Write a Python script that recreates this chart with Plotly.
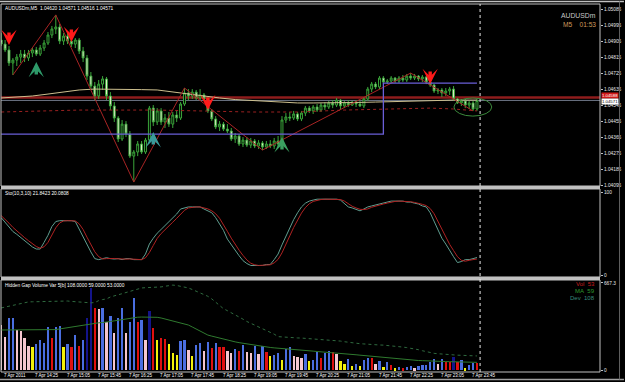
import plotly.graph_objects as go

# ---------------- data ----------------
bars = list(range(123))

open_ = [1.04911,1.04888,1.04855,1.04782,1.04798,1.04815,1.04832,1.04810,1.04838,1.04855,
         1.04832,1.04866,1.04894,1.04939,1.04973,1.04984,1.04905,1.04933,1.04905,1.04888,
         1.04911,1.04849,1.04810,1.04708,1.04652,1.04596,1.04663,1.04692,1.04596,1.04540,
         1.04472,1.04354,1.04438,1.04382,1.04258,1.04281,1.04326,1.04281,1.04348,1.04528,
         1.04450,1.04512,1.04450,1.04472,1.04438,1.04489,1.04472,1.04551,1.04613,1.04596,
         1.04618,1.04585,1.04602,1.04579,1.04512,1.04467,1.04422,1.04438,1.04410,1.04399,
         1.04354,1.04371,1.04326,1.04348,1.04320,1.04343,1.04315,1.04332,1.04309,1.04326,
         1.04315,1.04343,1.04326,1.04461,1.04478,1.04472,1.04495,1.04467,1.04500,1.04528,
         1.04512,1.04534,1.04517,1.04545,1.04534,1.04557,1.04545,1.04573,1.04540,1.04557,
         1.04545,1.04562,1.04551,1.04540,1.04579,1.04635,1.04663,1.04647,1.04697,1.04675,
         1.04680,1.04697,1.04680,1.04697,1.04686,1.04708,1.04697,1.04708,1.04692,1.04703,
         1.04675,1.04658,1.04624,1.04630,1.04613,1.04624,1.04635,1.04579,1.04557,1.04568,
         1.04545,1.04557,1.04523]
high = [1.04950,1.04911,1.04877,1.04810,1.04832,1.04855,1.04855,1.04855,1.04866,1.04872,
        1.04883,1.04911,1.04956,1.04990,1.05052,1.05001,1.04950,1.04950,1.04928,1.04922,
        1.04922,1.04872,1.04827,1.04731,1.04675,1.04686,1.04708,1.04703,1.04618,1.04562,
        1.04483,1.04461,1.04455,1.04399,1.04292,1.04343,1.04343,1.04360,1.04540,1.04545,
        1.04528,1.04528,1.04495,1.04506,1.04506,1.04517,1.04562,1.04641,1.04635,1.04635,
        1.04630,1.04635,1.04613,1.04590,1.04523,1.04483,1.04455,1.04450,1.04438,1.04416,
        1.04388,1.04382,1.04365,1.04365,1.04360,1.04354,1.04348,1.04343,1.04343,1.04348,
        1.04360,1.04371,1.04483,1.04500,1.04506,1.04512,1.04506,1.04512,1.04540,1.04540,
        1.04545,1.04551,1.04557,1.04562,1.04568,1.04573,1.04585,1.04579,1.04568,1.04573,
        1.04568,1.04573,1.04568,1.04590,1.04647,1.04675,1.04675,1.04708,1.04708,1.04692,
        1.04708,1.04703,1.04708,1.04714,1.04720,1.04725,1.04720,1.04714,1.04714,1.04708,
        1.04680,1.04663,1.04641,1.04641,1.04641,1.04647,1.04652,1.04585,1.04579,1.04579,
        1.04568,1.04568,1.04579]
low = [1.04877,1.04843,1.04765,1.04714,1.04765,1.04782,1.04787,1.04793,1.04815,1.04821,
       1.04821,1.04849,1.04883,1.04922,1.04945,1.04888,1.04883,1.04888,1.04872,1.04866,
       1.04832,1.04787,1.04686,1.04630,1.04573,1.04579,1.04630,1.04573,1.04517,1.04450,
       1.04337,1.04343,1.04365,1.04247,1.04112,1.04258,1.04270,1.04270,1.04332,1.04427,
       1.04433,1.04433,1.04416,1.04422,1.04416,1.04450,1.04461,1.04540,1.04573,1.04579,
       1.04573,1.04573,1.04568,1.04500,1.04455,1.04410,1.04399,1.04399,1.04388,1.04343,
       1.04332,1.04315,1.04309,1.04309,1.04303,1.04303,1.04298,1.04292,1.04298,1.04303,
       1.04298,1.04309,1.04309,1.04444,1.04455,1.04461,1.04455,1.04455,1.04483,1.04500,
       1.04495,1.04506,1.04506,1.04517,1.04523,1.04528,1.04534,1.04523,1.04528,1.04534,
       1.04540,1.04534,1.04534,1.04528,1.04568,1.04618,1.04635,1.04635,1.04663,1.04663,
       1.04669,1.04669,1.04669,1.04675,1.04675,1.04686,1.04686,1.04680,1.04675,1.04663,
       1.04647,1.04613,1.04607,1.04590,1.04596,1.04602,1.04568,1.04551,1.04540,1.04528,
       1.04523,1.04512,1.04512]
close = [1.04888,1.04855,1.04782,1.04798,1.04815,1.04832,1.04810,1.04838,1.04855,1.04832,
         1.04866,1.04894,1.04939,1.04973,1.04984,1.04905,1.04933,1.04905,1.04888,1.04911,
         1.04849,1.04810,1.04708,1.04652,1.04596,1.04663,1.04692,1.04596,1.04540,1.04472,
         1.04354,1.04438,1.04382,1.04258,1.04281,1.04326,1.04281,1.04348,1.04528,1.04450,
         1.04512,1.04450,1.04472,1.04438,1.04489,1.04472,1.04551,1.04613,1.04596,1.04618,
         1.04585,1.04602,1.04579,1.04512,1.04467,1.04422,1.04438,1.04410,1.04399,1.04354,
         1.04371,1.04326,1.04348,1.04320,1.04343,1.04315,1.04332,1.04309,1.04326,1.04315,
         1.04343,1.04326,1.04461,1.04478,1.04472,1.04495,1.04467,1.04500,1.04528,1.04512,
         1.04534,1.04517,1.04545,1.04534,1.04557,1.04545,1.04573,1.04540,1.04557,1.04545,
         1.04562,1.04551,1.04540,1.04579,1.04635,1.04663,1.04647,1.04697,1.04675,1.04680,
         1.04697,1.04680,1.04697,1.04686,1.04708,1.04697,1.04708,1.04692,1.04703,1.04675,
         1.04658,1.04624,1.04630,1.04613,1.04624,1.04635,1.04579,1.04557,1.04568,1.04545,
         1.04557,1.04523,1.04571]

# slow moving average (tan) and dotted envelope (dark red)
ma_bars = [0,4,8,12,16,20,24,28,32,36,40,44,48,52,56,60,64,68,72,76,80,84,88,92,96,100,104,108,112,116,120,122]
ma_vals = [1.04585,1.04590,1.04596,1.04607,1.04618,1.04630,1.04635,1.04635,1.04635,1.04632,1.04630,
           1.04618,1.04607,1.04593,1.04585,1.04576,1.04571,1.04565,1.04560,1.04557,1.04557,1.04557,
           1.04557,1.04560,1.04562,1.04565,1.04568,1.04571,1.04573,1.04573,1.04573,1.04573]
env_bars = [0,20,40,52,64,76,88,100,110,116,122]
env_vals = [1.04506,1.04517,1.04517,1.04512,1.04506,1.04506,1.04517,1.04523,1.04528,1.04523,1.04512]

zz_bars = [3,14,34,47,67,105,121]
zz_vals = [1.04714,1.05052,1.04112,1.04641,1.04292,1.04725,1.04512]

box_bars = [0,98,98,122]
box_vals = [1.04382,1.04382,1.04669,1.04669]

level_price = 1.04588
bid_price = 1.04571

dn_bars = [2,18,53,110]
dn_prices = [1.04883,1.04900,1.04517,1.04663]
up_bars = [9,39,72]
up_prices = [1.04787,1.04393,1.04365]

ellipse_bars = [116.1,125.8]
ellipse_prices = [1.04483,1.04585]
shift_bar = 122.8

price_ticks = [1.04095,1.04185,1.04275,1.04365,1.04455,1.04545,1.04635,1.04725,1.04815,1.04905,1.04995,1.05085]

stoch_main = [69.6,63.8,58,53,49.7,46,41.5,38,34.5,32,
              32,40,48.5,59,65,66,66,66,66,65,
              55.5,46,37,28.5,20.5,19.3,20.5,21.6,20.5,20,
              20.5,19.3,20.5,20.5,19.3,19.3,19.3,26,38,45,
              51,55.5,60,64,68.5,74,80,81.3,82.5,82.5,
              82.5,82.5,80,77.8,75.5,69.6,61.4,54.4,43.9,36.9,
              31,24,18.1,14.6,12.3,12.3,12.3,12.3,13.5,13.5,
              19.3,26,37,47.4,59,67.3,75.5,82.5,87,89.5,
              90.7,91.8,91.8,91.8,91.8,91.8,91.8,90.7,86,82.5,
              81.3,80,77.8,80,82.5,83.7,84.8,86,87,88.3,
              89.5,89.5,89.5,89.5,88.3,88.3,87,86,83.7,82.5,
              75.5,65,54.4,45,38,29.8,22.8,15.8,17,19.3,
              19.3,20.5,21.84]
stoch_signal = [72,68,63,58,53.5,49.5,45.7,42,38,35,
                33,34.7,40,49,57.5,63.3,65.7,66,66,65.7,
                62.2,55.5,46.2,37.2,28.7,22.8,20.1,20.5,20.9,20.7,
                20.3,19.9,19.9,20.1,20.1,19.7,19.3,21.5,27.8,36.3,
                44.7,50.5,55.5,59.8,64.2,68.8,74.2,78.4,81.3,82.1,
                82.5,82.5,81.7,80.1,77.8,74.3,68.8,61.8,53.2,45.1,
                37.3,30.6,24.4,18.9,15,13.1,12.3,12.3,12.7,13.1,
                15.4,19.6,27.4,36.8,47.8,57.9,67.3,75.1,81.7,86.3,
                89.1,90.7,91.4,91.8,91.8,91.8,91.8,91.4,89.5,86.4,
                83.3,81.3,79.7,79.3,80.1,82.1,83.7,84.8,86,87.1,
                88.3,89.1,89.5,89.5,89.1,88.7,87.9,87.1,85.6,84.1,
                80.6,74.3,65,54.8,45.8,37.6,30.2,22.8,18.5,17.4,
                18.5,19.7,20.08]

volume = [345,253,399,399,307,299,245,184,176,199,
          230,207,330,245,330,337,176,199,176,268,
          184,230,399,629,476,468,476,368,414,284,
          399,476,284,368,552,368,384,230,452,322,
          230,245,238,199,130,115,222,230,153,107,
          192,207,146,215,169,207,176,176,146,130,
          161,146,192,138,130,184,123,184,138,107,
          115,130,77,161,176,107,100,92,123,69,
          77,138,92,130,146,138,123,69,46,84,
          31,46,31,77,92,92,46,69,23,61,
          38,15,23,15,23,31,15,31,38,38,
          61,84,46,84,61,61,100,61,77,15,
          38,54,53]
vol_class = ("PPBBPPPPYB" "BBBRBBYBRB" "RBNNRPBPBP" "BBPBBRBPNR" "YRRYYYBBPY"
             "BBPBRBRRPP" "BRBPPBPBRY" "BBYBBPPPBY" "BBRBBRPYYB" "YBYBBRPBYB"
             "RYBRBBPBBB" "BBPBRRNRBY" "BBR")
vol_ma = [307,307,307,307,307,307,307,307,307,307,
          307,307,307,307,310,315,320,326,331,336,
          341,345,350,355,359,362,364,366,372,377,
          382,387,391,396,400,405,406,406,406,406,
          404,399,391,383,375,368,360,352,345,330,
          315,300,284,268,260,252,245,237,230,224,
          216,210,205,200,194,189,184,180,177,173,
          170,168,165,163,160,158,155,153,150,148,
          145,142,140,137,135,132,129,127,124,122,
          119,117,114,111,108,105,102,99,96,93,
          90,87,84,81,79,77,75,73,72,70,
          69,68,67,66,65,64,63,62,61,60,
          60,59,59]
vol_dev = [476,483,490,498,505,512,520,522,523,524,
           525,526,527,528,528,529,529,529,526,523,
           520,518,516,515,517,532,540,545,560,567,
           575,585,594,603,613,622,629,631,632,634,
           636,637,642,646,651,648,643,635,629,617,
           605,592,580,565,545,520,495,470,455,440,
           420,405,390,372,358,345,335,320,305,290,
           275,256,253,251,249,248,246,245,243,241,
           239,237,235,233,232,230,226,222,217,212,
           207,205,202,200,197,195,193,192,191,189,
           186,182,179,176,172,168,162,156,148,140,
           133,128,125,122,120,118,116,114,113,112,
           110,109,108]

time_bars = [0,8,16,24,32,40,48,56,64,72,80,88,96,104,112,120]
time_labels = ["7 Apr 2011","7 Apr 14:25","7 Apr 15:05","7 Apr 15:45","7 Apr 16:25",
               "7 Apr 17:05","7 Apr 17:45","7 Apr 18:25","7 Apr 19:05","7 Apr 19:45",
               "7 Apr 20:25","7 Apr 21:05","7 Apr 21:45","7 Apr 22:25","7 Apr 23:05",
               "7 Apr 23:45"]

# ---------------- style ----------------
FONT = "Liberation Sans"
GREEN = "#3aa53a"
BEAR_FILL = "#f2f2d8"
FRAME = "#c0c0c0"
VOL_COLORS = {"P": "#f5c6cf", "B": "#4a6ee0", "N": "#14148a", "R": "#e01010", "Y": "#f2f20a"}
X_RANGE = [-0.05, 153.55]

fig = go.Figure()

fig.add_trace(go.Candlestick(
    x=bars, open=open_, high=high, low=low, close=close,
    increasing=dict(line=dict(color=GREEN, width=1), fillcolor="#000000"),
    decreasing=dict(line=dict(color=GREEN, width=1), fillcolor=BEAR_FILL),
    whiskerwidth=0, hoverinfo="skip", xaxis="x", yaxis="y"))

fig.add_trace(go.Scatter(x=env_bars, y=env_vals, mode="lines",
                         line=dict(color="#9a2020", width=1, dash="dot"), yaxis="y"))
fig.add_trace(go.Scatter(x=ma_bars, y=ma_vals, mode="lines",
                         line=dict(color="#cdbf8e", width=1), yaxis="y"))
fig.add_trace(go.Scatter(x=zz_bars, y=zz_vals, mode="lines",
                         line=dict(color="#a82424", width=1), yaxis="y"))
fig.add_trace(go.Scatter(x=box_bars, y=box_vals, mode="lines",
                         line=dict(color="#6a5fd8", width=1.3), yaxis="y"))

fig.add_trace(go.Scatter(x=bars, y=stoch_main, mode="lines",
                         line=dict(color="#5f9e90", width=1), yaxis="y2"))
fig.add_trace(go.Scatter(x=bars, y=stoch_signal, mode="lines",
                         line=dict(color="#b02222", width=1), yaxis="y2"))

fig.add_trace(go.Bar(x=bars, y=volume, width=0.6,
                     marker=dict(color=[VOL_COLORS[c] for c in vol_class], line=dict(width=0)),
                     yaxis="y3"))
fig.add_trace(go.Scatter(x=bars, y=vol_ma, mode="lines",
                         line=dict(color="#2f7a2f", width=1), yaxis="y3"))
fig.add_trace(go.Scatter(x=bars, y=vol_dev, mode="lines",
                         line=dict(color="#2f6a3f", width=1, dash="dot"), yaxis="y3"))

shapes = []
# price levels
shapes.append(dict(type="line", xref="paper", x0=0, x1=1, yref="y", y0=level_price, y1=level_price,
                   line=dict(color="#8e1c1c", width=2.5), layer="below"))
shapes.append(dict(type="line", xref="paper", x0=0, x1=1, yref="y", y0=bid_price, y1=bid_price,
                   line=dict(color="#6c7484", width=1), layer="below"))
# ellipse
shapes.append(dict(type="circle", xref="x", yref="y", x0=ellipse_bars[0], x1=ellipse_bars[1],
                   y0=ellipse_prices[0], y1=ellipse_prices[1], line=dict(color="#3c8a3c", width=1)))
# panel frames
for y0, y1 in [(0.5054, 1.0), (0.2582, 0.4973), (0.0, 0.25)]:
    shapes.append(dict(type="rect", xref="paper", yref="paper", x0=0, x1=1, y0=y0, y1=y1,
                       line=dict(color=FRAME, width=1)))
for y0, y1 in [(0.4973, 0.5054), (0.25, 0.2582)]:
    shapes.append(dict(type="rect", xref="paper", yref="paper", x0=0, x1=1.0, y0=y0, y1=y1,
                       line=dict(width=0), fillcolor=FRAME))
# window border
shapes.append(dict(type="line", xref="paper", yref="paper", x0=-0.01, x1=1.04, y0=1.0068, y1=1.0068,
                   line=dict(color=FRAME, width=1.5)))
shapes.append(dict(type="line", xref="paper", yref="paper", x0=-0.01, x1=1.04, y0=-0.0204, y1=-0.0204,
                   line=dict(color="#a0a0a0", width=1.5)))
shapes.append(dict(type="line", xref="paper", yref="paper", x0=1.0326, x1=1.0326, y0=-0.0204, y1=1.0068,
                   line=dict(color="#606060", width=1)))
# chart shift dotted line
shapes.append(dict(type="line", xref="x", yref="paper", x0=shift_bar, x1=shift_bar, y0=0, y1=1,
                   line=dict(color="#e8e8e8", width=1, dash="dot")))

ann = []
small = dict(family=FONT, size=4.8, color="#ffffff")
ann.append(dict(xref="paper", yref="paper", x=0.004, y=0.989, xanchor="left", yanchor="middle",
                text="AUDUSDm,M5  1.04620 1.04571 1.04516 1.04571", showarrow=False, font=small))
ann.append(dict(xref="paper", yref="paper", x=0.996, y=0.970, xanchor="right", yanchor="middle",
                text="AUDUSDm", showarrow=False, font=dict(family=FONT, size=6.8, color="#c8c8c8")))
ann.append(dict(xref="paper", yref="paper", x=0.996, y=0.943, xanchor="right", yanchor="middle",
                text="M5&nbsp;&nbsp;&nbsp;&nbsp;01:53", showarrow=False,
                font=dict(family=FONT, size=6.6, color="#d09a5c")))
ann.append(dict(xref="paper", yref="paper", x=0.004, y=0.4864, xanchor="left", yanchor="middle",
                text="Sto(10,3,10) 21.8423 20.0808", showarrow=False, font=small))
ann.append(dict(xref="paper", yref="paper", x=0.004, y=0.2364, xanchor="left", yanchor="middle",
                text="Hidden Gap Volume Var 5[b] 108.0000 59.0000 53.0000", showarrow=False, font=small))
for txt, yy, col in [("Vol&nbsp;&nbsp;53", 0.2391, "#c81e1e"), ("MA&nbsp;&nbsp;59", 0.2201, "#2e9a2e"),
                     ("Dev&nbsp;&nbsp;108", 0.2011, "#3a8a7a")]:
    ann.append(dict(xref="paper", yref="paper", x=0.995, y=yy, xanchor="right", yanchor="middle",
                    text=txt, showarrow=False, font=dict(family=FONT, size=6, color=col)))
# price boxes on axis
ann.append(dict(xref="paper", yref="y", x=1.0, y=level_price, xanchor="left", yanchor="middle",
                xshift=1, yshift=2, text="1.04588", showarrow=False, bgcolor="#d01818", borderpad=0,
                font=dict(family=FONT, size=4.3, color="#ffffff")))
ann.append(dict(xref="paper", yref="y", x=1.0, y=bid_price, xanchor="left", yanchor="middle",
                xshift=1, yshift=-1, text="1.04571", showarrow=False, bgcolor="#ffffff", borderpad=0,
                font=dict(family=FONT, size=4.3, color="#000000")))
# time labels
for b, t in zip(time_bars, time_labels):
    ann.append(dict(xref="x", yref="paper", x=b, y=-0.0095, xanchor="left", yanchor="middle",
                    xshift=1, text=t, showarrow=False, font=dict(family=FONT, size=4.5, color="#ffffff")))
# signal arrows (MT4 style: shaft + triangular head)
for b, p in zip(dn_bars, dn_prices):
    ann.append(dict(xref="x", yref="y", x=b, y=p, text="", showarrow=True, ax=0, ay=-14,
                    arrowhead=3, arrowsize=0.75, arrowwidth=3.4, arrowcolor="#ff1a1a", standoff=0))
for b, p, c in zip(up_bars, up_prices, ["#2e9a6a", "#3a9a9a", "#3aa060"]):
    ann.append(dict(xref="x", yref="y", x=b, y=p, text="", showarrow=True, ax=0, ay=14,
                    arrowhead=3, arrowsize=0.75, arrowwidth=3.4, arrowcolor=c, standoff=0))

axis_font = dict(family=FONT, size=4.8, color="#e6e6e6")
common_y = dict(side="right", anchor="x", showgrid=False, zeroline=False, showline=False,
                ticks="outside", ticklen=2, tickcolor=FRAME, tickfont=axis_font, fixedrange=True)

fig.update_layout(
    width=625, height=382,
    margin=dict(l=1, r=25, t=4, b=10),
    paper_bgcolor="#000000", plot_bgcolor="#000000",
    showlegend=False, bargap=0,
    xaxis=dict(domain=[0, 1], range=X_RANGE, anchor="y3", showticklabels=False,
               showgrid=False, zeroline=False, showline=False, ticks="",
               rangeslider=dict(visible=False), fixedrange=True),
    yaxis=dict(domain=[0.5054, 1], range=[1.0408975, 1.051135],
               tickvals=price_ticks, ticktext=[f"{v:.5f}" for v in price_ticks], **common_y),
    yaxis2=dict(domain=[0.2582, 0.4973], range=[-1.5, 104], tickvals=[0, 100],
                ticktext=["0", "100"], **common_y),
    yaxis3=dict(domain=[0, 0.25], range=[-15, 690], tickvals=[0, 667.3],
                ticktext=["0", "667.3"], **common_y),
    shapes=shapes, annotations=ann,
)

fig.write_html("out.html")
